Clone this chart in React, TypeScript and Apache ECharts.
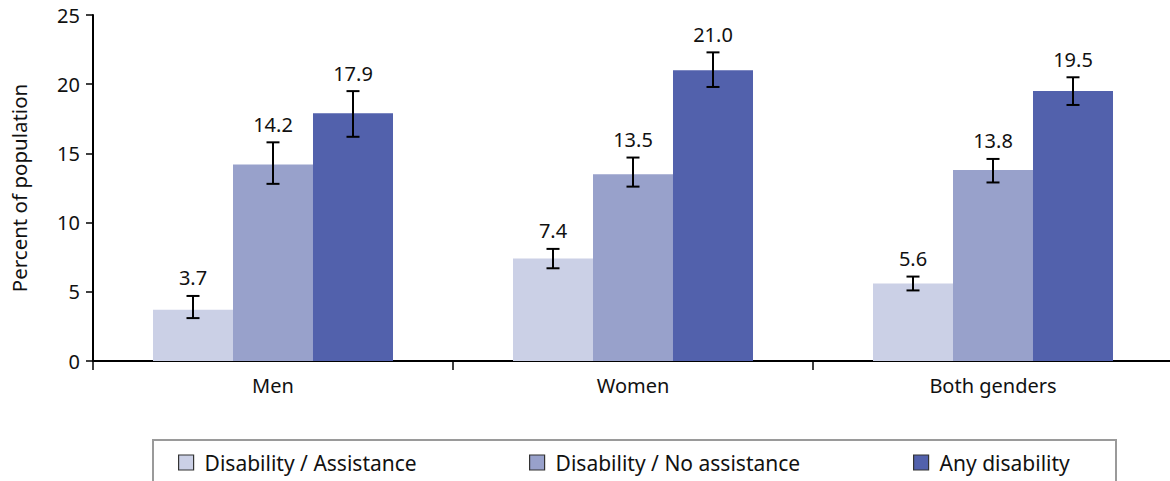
import React, { useEffect, useRef } from "react";
import * as echarts from "echarts";

// Categories and series
const categories = ["Men", "Women", "Both genders"];
const seriesNames = ["Disability / Assistance", "Disability / No assistance", "Any disability"];
const seriesColors = ["#CBD0E6", "#98A1CB", "#5261AC"];

const assistance = [3.7, 7.4, 5.6];
const noAssistance = [14.2, 13.5, 13.8];
const anyDisability = [17.9, 21.0, 19.5];

// Confidence intervals (low / high) per series
const assistanceLow = [3.1, 6.7, 5.1];
const assistanceHigh = [4.7, 8.1, 6.1];
const noAssistanceLow = [12.8, 12.6, 12.9];
const noAssistanceHigh = [15.8, 14.7, 14.6];
const anyLow = [16.2, 19.8, 18.5];
const anyHigh = [19.5, 22.3, 20.5];

const yTicks = { min: 0, max: 25, interval: 5 };

const FONT = "Noto Sans";
const BAR_FRACTION = 2 / 9;

const values = [assistance, noAssistance, anyDisability];
const lows = [assistanceLow, noAssistanceLow, anyLow];
const highs = [assistanceHigh, noAssistanceHigh, anyHigh];

function errorSeries(idx: number) {
  const data = categories.map((_, c) => [c, lows[idx][c], highs[idx][c], values[idx][c]]);
  return {
    type: "custom",
    name: seriesNames[idx] + " CI",
    z: 5,
    data,
    renderItem: (params: any, api: any) => {
      const c = api.value(0);
      const lo = api.value(1);
      const hi = api.value(2);
      const v = api.value(3);
      const band = api.size([1, 0])[0];
      const off = (idx - 1) * band * BAR_FRACTION;
      const pLo = api.coord([c, lo]);
      const pHi = api.coord([c, hi]);
      const x = pLo[0] + off;
      const cap = 6.5;
      const ls = { stroke: "#000", lineWidth: 2 };
      return {
        type: "group",
        children: [
          { type: "line", shape: { x1: x, y1: pLo[1], x2: x, y2: pHi[1] }, style: ls },
          { type: "line", shape: { x1: x - cap, y1: pHi[1], x2: x + cap, y2: pHi[1] }, style: ls },
          { type: "line", shape: { x1: x - cap, y1: pLo[1], x2: x + cap, y2: pLo[1] }, style: ls },
          {
            type: "text",
            style: {
              x,
              y: pHi[1] - 8,
              text: v.toFixed(1),
              align: "center",
              verticalAlign: "bottom",
              fontFamily: FONT,
              fontSize: 20,
              fill: "#111",
            },
          },
        ],
      };
    },
  };
}

export default function App() {
  const ref = useRef<HTMLDivElement>(null);

  useEffect(() => {
    if (!ref.current) return;
    const chart = echarts.init(ref.current, undefined, { renderer: "svg" });

    const legendLefts = [178, 529, 913];

    chart.setOption({
      animation: false,
      backgroundColor: "#fff",
      textStyle: { fontFamily: FONT },
      grid: {
        left: 93,
        top: 15,
        width: 1080,
        height: 346,
        containLabel: false,
        outerBoundsMode: "none",
      },
      legend: seriesNames.map((n, i) => ({
        data: [n],
        left: legendLefts[i],
        top: 452,
        itemWidth: 15,
        itemHeight: 15,
        itemGap: 0,
        padding: 0,
        icon: "rect",
        itemStyle: { borderColor: "#333", borderWidth: 1.2 },
        textStyle: { fontFamily: FONT, fontSize: 21, color: "#111", padding: [0, 0, 0, 6] },
      })),
      graphic: [
        {
          type: "rect",
          shape: { x: 153, y: 440, width: 963, height: 60 },
          style: { fill: "none", stroke: "#9a9a9a", lineWidth: 2 },
          silent: true,
        },
      ],
      xAxis: {
        type: "category",
        data: categories,
        axisLine: { lineStyle: { color: "#000", width: 2 } },
        axisTick: { show: true, length: 9, lineStyle: { color: "#000", width: 1.5 } },
        axisLabel: { fontFamily: FONT, fontSize: 20, color: "#111", margin: 14 },
      },
      yAxis: {
        type: "value",
        min: yTicks.min,
        max: yTicks.max,
        interval: yTicks.interval,
        name: "Percent of population",
        nameLocation: "middle",
        nameGap: 64,
        nameTextStyle: { fontFamily: FONT, fontSize: 20.5, color: "#111" },
        axisLine: { show: true, lineStyle: { color: "#000", width: 2 } },
        axisTick: { show: true, length: 7, lineStyle: { color: "#000", width: 1.5 } },
        axisLabel: { fontFamily: FONT, fontSize: 20, color: "#111", margin: 13 },
        splitLine: { show: false },
      },
      series: [
        ...seriesNames.map((n, i) => ({
          type: "bar",
          name: n,
          data: values[i],
          barWidth: (BAR_FRACTION * 100).toFixed(3) + "%",
          barGap: "0%",
          itemStyle: { color: seriesColors[i] },
        })),
        errorSeries(0),
        errorSeries(1),
        errorSeries(2),
      ],
    });

    return () => chart.dispose();
  }, []);

  return (
    <div
      ref={ref}
      style={{ position: "fixed", left: 0, top: 0, width: 1170, height: 481, background: "#fff" }}
    />
  );
}
